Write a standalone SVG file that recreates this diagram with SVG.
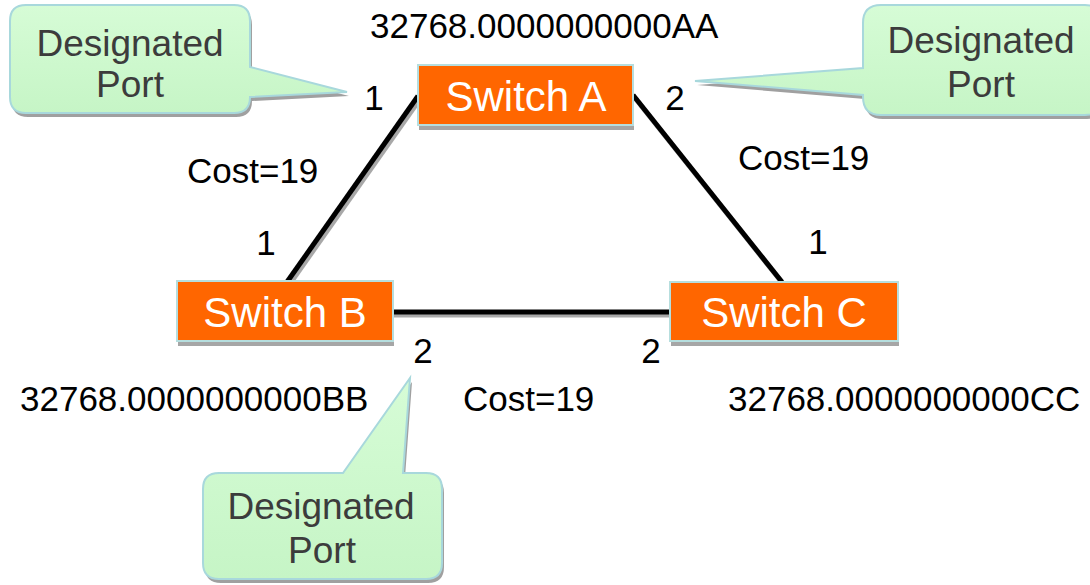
<svg xmlns="http://www.w3.org/2000/svg" width="1090" height="585" viewBox="0 0 1090 585">
<defs>
<linearGradient id="g" x1="0" y1="0" x2="0" y2="1">
<stop offset="0" stop-color="#d6fcd6"/>
<stop offset="1" stop-color="#c6f5c6"/>
</linearGradient>
<style>
.t{font-family:"Liberation Sans",Arial,sans-serif;font-size:35px;fill:#000}
.ct{font-family:"Liberation Sans",Arial,sans-serif;font-size:37px;fill:#3c3c3c;text-anchor:middle}
.sw{fill:#ff6600;stroke:#b6dede;stroke-width:2}
.sh{fill:#a6a6a6}
.st{font-family:"Liberation Sans",Arial,sans-serif;font-size:42px;fill:#fff;text-anchor:middle}
.co{fill:url(#g);stroke:#a8d8dc;stroke-width:2}
.cs{fill:#a0a0a0}
.ln{stroke:#000;stroke-width:5;fill:none}
.ls{stroke:#a8a8a8;stroke-width:5;fill:none}
</style>
</defs>
<rect width="1090" height="585" fill="#fff"/>

<g id="connectors">
<line class="ls" x1="420" y1="99" x2="289" y2="285"/>
<line class="ls" x1="635" y1="98" x2="784" y2="285"/>
<line class="ls" x1="393" y1="315" x2="670" y2="315"/>
<line class="ln" x1="418" y1="96" x2="287" y2="282"/>
<line class="ln" x1="633" y1="95" x2="782" y2="282"/>
<line class="ln" x1="393" y1="312" x2="670" y2="312"/>
</g>

<g id="switchA">
<rect class="sh" x="419" y="70" width="215" height="60"/>
<rect class="sw" x="418" y="65" width="215" height="60"/>
<text class="st" x="526" y="111">Switch A</text>
</g>
<g id="switchB">
<rect class="sh" x="178" y="286" width="216" height="60"/>
<rect class="sw" x="177" y="281" width="216" height="60"/>
<text class="st" x="285" y="327">Switch B</text>
</g>
<g id="switchC">
<rect class="sh" x="671" y="287" width="228" height="59"/>
<rect class="sw" x="670" y="282" width="228" height="59"/>
<text class="st" x="784" y="327">Switch C</text>
</g>

<g id="callout-left">
<path class="cs" transform="translate(2,4)" d="M26,5 H234 Q250,5 250,21 V67 L347,92 L250,97 Q250,113 234,113 H26 Q10,113 10,97 V21 Q10,5 26,5 Z"/>
<path class="co" d="M26,5 H234 Q250,5 250,21 V67 L347,92 L250,97 Q250,113 234,113 H26 Q10,113 10,97 V21 Q10,5 26,5 Z"/>
<text class="ct" x="130" y="56">Designated</text>
<text class="ct" x="130" y="97">Port</text>
</g>
<g id="callout-right">
<path class="cs" transform="translate(2,4)" d="M881,5 H1085 Q1103,5 1103,23 V97 Q1103,115 1085,115 H881 Q863,115 863,97 V95 L695,81 L863,68 V23 Q863,5 881,5 Z"/>
<path class="co" d="M881,5 H1085 Q1103,5 1103,23 V97 Q1103,115 1085,115 H881 Q863,115 863,97 V95 L695,81 L863,68 V23 Q863,5 881,5 Z"/>
<text class="ct" x="981" y="53">Designated</text>
<text class="ct" x="981" y="97">Port</text>
</g>
<g id="callout-bottom">
<path class="cs" transform="translate(2,4)" d="M219,473 H343 L410,378 L403,473 H426 Q442,473 442,489 V563 Q442,579 426,579 H219 Q203,579 203,563 V489 Q203,473 219,473 Z"/>
<path class="co" d="M219,473 H343 L410,378 L403,473 H426 Q442,473 442,489 V563 Q442,579 426,579 H219 Q203,579 203,563 V489 Q203,473 219,473 Z"/>
<text class="ct" x="321" y="519">Designated</text>
<text class="ct" x="322" y="563">Port</text>
</g>

<g id="labels">
<text class="t" x="370" y="38">32768.0000000000AA</text>
<text class="t" x="20" y="411">32768.0000000000BB</text>
<text class="t" x="728" y="411">32768.0000000000CC</text>
<text class="t" x="187" y="183">Cost=19</text>
<text class="t" x="738" y="170">Cost=19</text>
<text class="t" x="463" y="411">Cost=19</text>
<text class="t" x="374" y="110" text-anchor="middle">1</text>
<text class="t" x="675" y="110" text-anchor="middle">2</text>
<text class="t" x="266" y="255" text-anchor="middle">1</text>
<text class="t" x="818" y="254" text-anchor="middle">1</text>
<text class="t" x="423" y="363" text-anchor="middle">2</text>
<text class="t" x="651" y="363" text-anchor="middle">2</text>
</g>
</svg>
